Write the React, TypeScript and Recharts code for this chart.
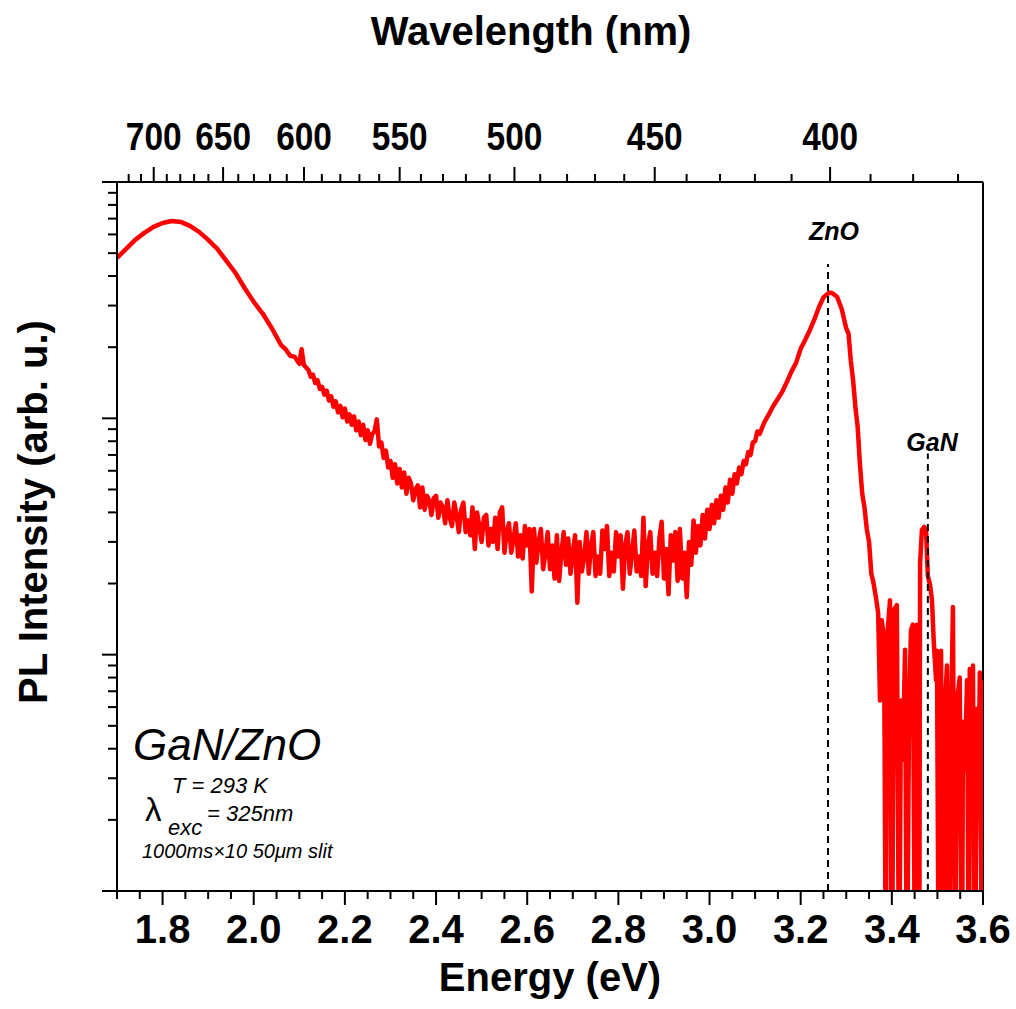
import { LineChart, Line, XAxis, YAxis, ReferenceLine } from "recharts"

// [energy (eV), PL intensity (arb. u.)], split by region
const broadBand: [number, number][] = [
  [1.70, 477], [1.72, 521], [1.74, 569], [1.76, 609], [1.78, 646], [1.80, 671],
  [1.82, 684], [1.84, 678], [1.86, 652], [1.88, 615], [1.90, 569], [1.92, 521],
  [1.94, 464], [1.96, 412], [1.98, 356], [2.00, 311], [2.02, 277], [2.04, 240],
  [2.06, 204], [2.07, 196], [2.08, 184], [2.09, 182], [2.10, 170], [2.105, 196],
  [2.11, 168], [2.12, 160], [2.125, 150], [2.13, 153], [2.135, 141], [2.14, 145],
  [2.145, 133], [2.15, 136], [2.155, 126], [2.16, 131], [2.165, 119], [2.17, 124],
  [2.175, 112], [2.18, 118], [2.185, 106], [2.19, 113], [2.195, 101], [2.20, 110],
  [2.205, 97], [2.21, 104], [2.215, 94], [2.22, 102], [2.225, 89], [2.23, 97],
  [2.235, 85], [2.24, 94], [2.245, 81], [2.25, 89], [2.255, 78], [2.26, 86],
  [2.265, 88], [2.27, 99], [2.275, 76], [2.28, 79], [2.285, 68], [2.29, 73],
  [2.295, 62],
]

const noisyBand: [number, number][] = [
  [2.300, 66], [2.305, 56], [2.310, 64], [2.315, 53], [2.320, 61], [2.325, 51],
  [2.330, 59], [2.335, 48], [2.340, 56], [2.345, 53], [2.350, 45], [2.355, 50],
  [2.360, 52], [2.365, 42], [2.370, 51], [2.375, 41], [2.380, 47], [2.385, 45],
  [2.390, 39], [2.395, 46], [2.400, 47], [2.405, 38], [2.410, 44], [2.415, 42],
  [2.420, 36], [2.425, 45], [2.430, 38], [2.435, 35], [2.440, 44], [2.445, 39],
  [2.450, 33], [2.455, 41], [2.460, 44], [2.465, 33], [2.470, 37], [2.475, 32],
  [2.480, 42], [2.485, 28], [2.490, 40], [2.495, 35], [2.500, 30], [2.505, 38],
  [2.510, 39], [2.515, 29], [2.520, 34], [2.525, 30], [2.530, 38], [2.535, 28],
  [2.540, 40], [2.545, 42], [2.550, 27], [2.555, 33], [2.560, 36], [2.565, 27],
  [2.570, 31], [2.575, 36], [2.580, 26], [2.585, 32], [2.590, 25.5], [2.595, 35],
  [2.600, 29], [2.605, 34], [2.610, 18.5], [2.615, 34], [2.620, 24.5], [2.625, 30],
  [2.630, 34], [2.635, 23], [2.640, 27], [2.645, 33], [2.650, 23], [2.655, 29],
  [2.660, 21], [2.665, 32], [2.670, 20.5], [2.675, 27], [2.680, 33], [2.685, 24],
  [2.690, 31], [2.695, 22], [2.700, 27], [2.705, 32], [2.710, 16.6], [2.715, 30],
  [2.720, 22.5], [2.725, 26], [2.730, 33], [2.735, 22], [2.740, 29], [2.745, 33],
  [2.750, 21.5], [2.755, 26], [2.760, 22], [2.765, 33.5], [2.770, 28], [2.775, 35],
  [2.780, 21.5], [2.785, 27], [2.790, 22.5], [2.795, 33], [2.800, 26], [2.805, 32],
  [2.810, 19], [2.815, 29], [2.820, 33], [2.825, 22], [2.830, 27], [2.835, 33.5],
  [2.840, 22.5], [2.845, 26], [2.850, 21.5], [2.855, 38], [2.860, 19.5], [2.865, 29],
  [2.870, 33], [2.875, 22], [2.880, 27], [2.885, 21.5], [2.890, 31], [2.895, 36.5],
  [2.900, 21], [2.905, 28], [2.910, 18], [2.915, 32], [2.920, 25], [2.925, 33],
  [2.930, 20.5], [2.935, 34], [2.940, 21], [2.945, 27], [2.950, 17.5], [2.955, 30],
  [2.960, 24],
]

const znoEdge: [number, number][] = [
  [2.965, 37], [2.970, 27], [2.975, 35], [2.980, 29], [2.985, 39], [2.990, 31],
  [2.995, 41], [3.000, 34], [3.005, 43], [3.010, 36], [3.015, 45], [3.020, 38],
  [3.025, 47], [3.030, 41], [3.035, 51], [3.040, 44], [3.045, 55], [3.050, 48],
  [3.055, 58], [3.060, 53], [3.065, 62], [3.070, 58], [3.075, 66], [3.080, 64],
  [3.085, 72], [3.090, 70], [3.095, 79], [3.100, 80], [3.105, 88], [3.110, 86],
  [3.120, 96], [3.130, 104], [3.140, 113], [3.150, 121], [3.160, 130], [3.170, 143],
  [3.180, 158], [3.190, 172], [3.200, 197], [3.210, 215], [3.220, 236], [3.230, 262],
  [3.240, 295], [3.250, 325], [3.260, 338], [3.265, 340], [3.270, 338], [3.280, 326],
  [3.290, 290], [3.300, 240], [3.305, 228], [3.310, 175], [3.315, 145], [3.320, 112],
  [3.325, 92], [3.330, 64], [3.335, 48], [3.340, 42], [3.345, 34], [3.350, 30],
  [3.355, 22], [3.360, 20], [3.365, 17.5], [3.370, 15],
]

const noisyTail: [number, number][] = [
  [3.374, 6.4], [3.378, 14], [3.383, 11.5], [3.387, 0.3], [3.389, 11.5], [3.396, 17],
  [3.400, 0.3], [3.405, 15.5], [3.411, 16.2], [3.416, 0.3], [3.420, 6.4], [3.424, 3.6],
  [3.429, 10.5], [3.433, 0.3], [3.438, 6.4], [3.442, 12.7], [3.446, 13.4], [3.451, 0.3],
  [3.455, 13.4], [3.460, 0.3], [3.462, 24.4], [3.466, 33.7], [3.471, 34.7], [3.475, 33.7],
  [3.479, 21.5], [3.484, 19.7], [3.488, 17], [3.492, 11.3], [3.497, 7.8], [3.499, 10.4],
  [3.503, 0.3], [3.508, 10.4], [3.512, 0.3], [3.517, 6.4], [3.521, 9.0], [3.525, 0.3],
  [3.530, 5.3], [3.534, 15.9], [3.539, 0.3], [3.543, 6.4], [3.549, 8.0], [3.554, 0.3],
  [3.556, 5.2], [3.560, 3.25], [3.565, 7.8], [3.569, 0.3], [3.571, 8.7], [3.576, 3.95],
  [3.578, 9.0], [3.582, 0.3], [3.587, 5.9], [3.591, 3.6], [3.593, 8.4], [3.598, 0.3],
  [3.600, 7.8],
]

// peak markers: energy and top of the dashed line
const znoPeak = { energy: 3.26, top: 450, label: "ZnO" }
const ganPeak = { energy: 3.479, top: 71, label: "GaN" }

// axis ticks
const energyRange: [number, number] = [1.7, 3.6]
const intensityRange: [number, number] = [1, 1000]
const energyTicks = Array.from({ length: 39 }, (_, i) => Math.round((1.7 + i * 0.05) * 100) / 100)
const intensityTicks = [2, 3, 4, 5, 6, 7, 8, 9, 10, 20, 30, 40, 50, 60, 70, 80, 90, 100, 200, 300, 400, 500, 600, 700, 800, 900]
const wavelengthTicks = [720, 710, 700, 690, 680, 670, 660, 650, 640, 630, 620, 610, 600, 590, 580, 570, 560, 550, 540, 530, 520, 510, 500, 490, 480, 470, 460, 450, 440, 430, 420, 410, 400, 390, 380, 370]

// the top axis of the original is calibrated as E = A / lambda + B
const WL_A = 1385
const WL_B = -0.198
const toEnergy = (nm: number) => WL_A / nm + WL_B
const toWavelength = (e: number) => Math.round(WL_A / (e - WL_B))

const series = [...broadBand, ...noisyBand, ...znoEdge, ...noisyTail].map(([energy, pl]) => ({ energy, pl }))

const FONT = '"Liberation Sans", Arial, Helvetica, sans-serif'

function BottomTick(props: any) {
  const { x, y, payload } = props
  const v = payload.value
  const major = Math.round(v * 100) % 20 === 0
  return (
    <g>
      <line x1={x} x2={x} y1={y} y2={y + (major ? 14 : 8)} stroke="#000" strokeWidth={2} />
      {major && (
        <text x={x} y={y + 52} textAnchor="middle" fontFamily={FONT} fontWeight="bold" fontSize={40} fill="#000">
          {v.toFixed(1)}
        </text>
      )}
    </g>
  )
}

function TopTick(props: any) {
  const { x, y, payload } = props
  const nm = toWavelength(payload.value)
  const major = nm % 50 === 0
  return (
    <g>
      <line x1={x} x2={x} y1={y} y2={y - (major ? 15 : 8)} stroke="#000" strokeWidth={2} />
      {major && (
        <text
          transform={`translate(${x},${y - 32}) scale(0.88,1)`}
          textAnchor="middle"
          fontFamily={FONT}
          fontWeight="bold"
          fontSize={38}
          fill="#000"
        >
          {nm}
        </text>
      )}
    </g>
  )
}

function LeftTick(props: any) {
  const { x, y, payload } = props
  const major = payload.value === 10 || payload.value === 100
  return <line x1={x - (major ? 15 : 9)} x2={x} y1={y} y2={y} stroke="#000" strokeWidth={2} />
}

export default function App() {
  return (
    <div style={{ position: "absolute", left: 0, top: 0, width: 1016, height: 1009, background: "#fff" }}>
      <LineChart width={1016} height={1009} data={series} margin={{ top: 122, right: 33, bottom: 58, left: 57 }}>
        <XAxis
          dataKey="energy"
          type="number"
          domain={energyRange}
          allowDataOverflow
          ticks={energyTicks}
          interval={0}
          tick={BottomTick}
          tickLine={false}
          tickSize={0}
          tickMargin={0}
          height={60}
          axisLine={{ stroke: "#000", strokeWidth: 2 }}
        />
        <XAxis
          xAxisId="top"
          dataKey="energy"
          orientation="top"
          type="number"
          domain={energyRange}
          allowDataOverflow
          ticks={wavelengthTicks.map(toEnergy)}
          interval={0}
          tick={TopTick}
          tickLine={false}
          tickSize={0}
          tickMargin={0}
          height={60}
          axisLine={{ stroke: "#000", strokeWidth: 2 }}
        />
        <YAxis
          type="number"
          scale="log"
          domain={intensityRange}
          allowDataOverflow
          ticks={intensityTicks}
          interval={0}
          tick={LeftTick}
          tickLine={false}
          tickSize={0}
          tickMargin={0}
          width={60}
          axisLine={{ stroke: "#000", strokeWidth: 2 }}
        />
        <ReferenceLine x={3.6} stroke="#000" strokeWidth={2} />
        <ReferenceLine
          segment={[{ x: 1.667, y: 1 }, { x: 1.7, y: 1 }]}
          ifOverflow="visible"
          stroke="#000"
          strokeWidth={2}
        />
        <ReferenceLine
          segment={[{ x: 1.667, y: 1000 }, { x: 1.7, y: 1000 }]}
          ifOverflow="visible"
          stroke="#000"
          strokeWidth={2}
        />
        {/* invisible copy so the wavelength axis gets a scale */}
        <Line
          xAxisId="top"
          dataKey="pl"
          stroke="none"
          strokeWidth={0}
          dot={false}
          activeDot={false}
          legendType="none"
          isAnimationActive={false}
        />
        <Line
          dataKey="pl"
          type="linear"
          stroke="#ff0000"
          strokeWidth={4.5}
          strokeLinejoin="round"
          dot={false}
          isAnimationActive={false}
        />
        {[znoPeak, ganPeak].map((p) => (
          <ReferenceLine
            key={p.label}
            segment={[{ x: p.energy, y: 1 }, { x: p.energy, y: p.top }]}
            stroke="#000"
            strokeWidth={2}
            strokeDasharray="7 5"
          />
        ))}
      </LineChart>
      <svg
        width={1016}
        height={1009}
        style={{ position: "absolute", left: 0, top: 0, pointerEvents: "none" }}
        fontFamily={FONT}
        fill="#000"
      >
        <text x={531} y={45} textAnchor="middle" fontSize={40} fontWeight="bold">Wavelength (nm)</text>
        <text x={550} y={991} textAnchor="middle" fontSize={40} fontWeight="bold">Energy (eV)</text>
        <text transform="translate(47,512) rotate(-90)" textAnchor="middle" fontSize={40} fontWeight="bold">
          PL Intensity (arb. u.)
        </text>
        <text x={834} y={240} textAnchor="middle" fontSize={25} fontWeight="bold" fontStyle="italic">ZnO</text>
        <text x={932} y={451} textAnchor="middle" fontSize={25} fontWeight="bold" fontStyle="italic">GaN</text>
        <text x={133} y={760} fontSize={44} fontStyle="italic">GaN/ZnO</text>
        <text x={172} y={793} fontSize={22} fontStyle="italic">T = 293 K</text>
        <text x={145} y={821} fontSize={33}>λ</text>
        <text x={168} y={835} fontSize={22} fontStyle="italic">exc</text>
        <text x={207} y={821} fontSize={22} fontStyle="italic">= 325nm</text>
        <text x={142} y={858} fontSize={20} fontStyle="italic">1000ms×10 50μm slit</text>
      </svg>
    </div>
  )
}
